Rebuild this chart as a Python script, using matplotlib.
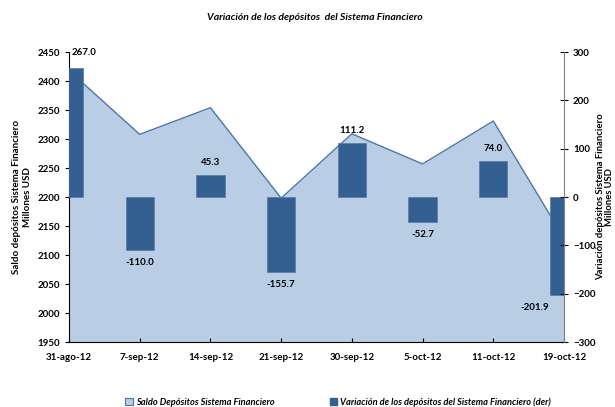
import numpy as np
import matplotlib
matplotlib.use('Agg')
from matplotlib import pyplot as plt
from matplotlib.patches import Patch

plt.rcParams['font.family'] = ['Lato', 'DejaVu Sans']
plt.rcParams['font.weight'] = 'bold'

fechas = ['31-ago-12', '7-sep-12', '14-sep-12', '21-sep-12',
          '30-sep-12', '5-oct-12', '11-oct-12', '19-oct-12']
saldo = [2418, 2308, 2354, 2198, 2309, 2257, 2331, 2129]
variacion = [267.0, -110.0, 45.3, -155.7, 111.2, -52.7, 74.0, -201.9]

area_color = '#B9CDE5'
line_color = '#4A76AC'
bar_color = '#335F91'

x = np.arange(len(fechas))

fig = plt.figure(figsize=(6.15, 4.07), dpi=100)
ax = fig.add_axes([0.1122, 0.1597, 0.8049, 0.7125])
ax2 = ax.twinx()

# area (eje izquierdo)
ax.fill_between(x, 1950, saldo, color=area_color, lw=0)
ax.plot(x, saldo, color=line_color, lw=1)
ax.set_ylim(1950, 2450)
ax.set_yticks(np.arange(1950, 2451, 50))
ax.set_xlim(0, len(fechas) - 1)
ax.set_xticks(x)
ax.set_xticklabels(fechas)

# barras (eje derecho)
ax2.bar(x, variacion, width=0.4, color=bar_color, edgecolor='#5679A6', lw=0.5)
ax2.set_ylim(-300, 300)
ax2.set_yticks(np.arange(-300, 301, 100))
ax2.set_xlim(0, len(fechas) - 1)

for i, v in enumerate(variacion):
    xi = i
    if i == 0:
        xi = 0.21
    elif i == len(variacion) - 1:
        xi = 6.59
    off = 9 if v > 0 else -9
    if i == 0:
        off = 11
    ax2.annotate(f'{v:.1f}', (xi, v), xytext=(0, off), textcoords='offset points',
                 ha='center', va='center', fontsize=7, fontweight='bold')

for a in (ax, ax2):
    a.spines['top'].set_visible(False)
ax.spines['right'].set_visible(False)
ax2.spines['left'].set_visible(False)
ax2.spines['bottom'].set_visible(False)
ax2.spines['right'].set_color('#808080')
ax.spines['left'].set_color('black')
ax.spines['bottom'].set_color('black')

ax.tick_params(axis='y', direction='out', length=3, labelsize=7, width=0.8)
ax.tick_params(axis='x', direction='in', length=3, labelsize=7, pad=8, width=0.8)
ax2.tick_params(axis='y', direction='inout', length=6, labelsize=7, width=0.8)

ax.set_ylabel('Saldo depósitos Sistema Financiero\nMillones USD', fontsize=7,
              fontweight='bold', labelpad=4)
ax2.set_ylabel('Variación depósitos Sistema Financiero\nMillones USD', fontsize=6.8,
               fontweight='bold', labelpad=0, linespacing=1.05)

fig.text(0.512, 0.958, 'Variación de los depósitos  del Sistema Financiero',
         ha='center', va='center', fontsize=7.5, fontstyle='italic', fontweight='bold')

handles = [Patch(facecolor=area_color, edgecolor=line_color, lw=0.8),
           Patch(facecolor=bar_color, edgecolor=bar_color)]
labels = ['Saldo Depósitos Sistema Financiero',
          'Variación de los depósitos del Sistema Financiero (der)']
fig.legend(handles, labels, loc='center', bbox_to_anchor=(0.55, 0.012), ncol=2,
           frameon=False, prop={'size': 6.7, 'style': 'italic', 'weight': 'bold'},
           handlelength=0.8, handleheight=0.8, columnspacing=6, handletextpad=0.3)

plt.savefig('out.png', dpi=100)
plt.close()
